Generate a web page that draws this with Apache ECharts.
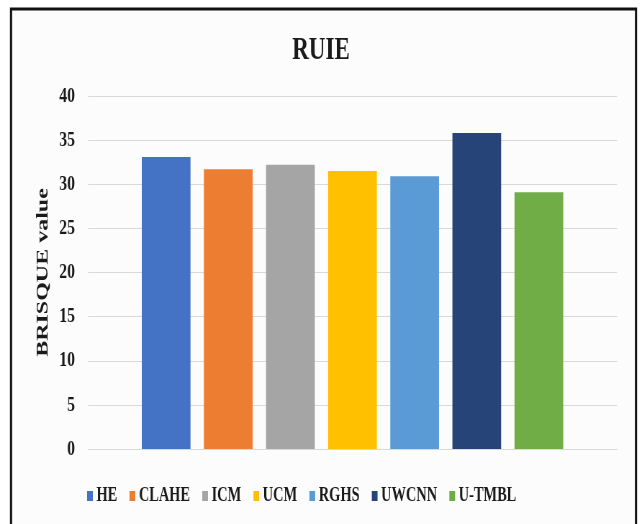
<!DOCTYPE html>
<html>
<head>
<meta charset="utf-8">
<style>
  html, body { margin: 0; padding: 0; background: #ffffff; overflow: hidden; }
  /* The chart is laid out on a wider canvas and squeezed horizontally,
     giving the narrow, condensed serif lettering of the figure. */
  #chart { width: 892px; height: 524px; transform: scaleX(0.7197); transform-origin: 0 0; }
</style>
<script src="https://cdn.jsdelivr.net/npm/echarts@6/dist/echarts.min.js"></script>
</head>
<body>
<div id="chart"></div>
<script>
// BRISQUE scores of each enhancement method on the RUIE set
const methods = ['HE', 'CLAHE', 'ICM', 'UCM', 'RGHS', 'UWCNN', 'U-TMBL'];
const brisque = [33.1, 31.7, 32.2, 31.5, 30.9, 35.8, 29.1];
const methodColors = ['#4472C4', '#ED7D31', '#A5A5A5', '#FFC000', '#5B9BD5', '#264478', '#70AD47'];
const yTicks = { min: 0, max: 40, interval: 5 };

const serif = '"Liberation Serif", "Times New Roman", serif';
const ink = '#1a1a1a';

const chart = echarts.init(document.getElementById('chart'), null, { renderer: 'canvas' });

const series = methods.map((name, i) => ({
  name: name,
  type: 'bar',
  data: [brisque[i]],
  barWidth: 67.7,
  barGap: '27.5%',
  itemStyle: { color: methodColors[i] }
}));

chart.setOption({
  backgroundColor: '#ffffff',
  animation: false,
  graphic: [{
    type: 'rect',
    shape: { x: 15.3, y: 9, width: 868.4, height: 530 },
    style: { fill: '#fcfcfc', stroke: '#111111', lineWidth: 3 },
    z: -10,
    silent: true
  }],
  title: {
    text: 'RUIE',
    left: 'center',
    top: 30,
    textStyle: { fontFamily: serif, fontWeight: 'bold', fontSize: 32, color: ink }
  },
  legend: {
    data: methods,
    bottom: 13,
    left: 116,
    itemWidth: 8,
    itemHeight: 10,
    itemGap: 17,
    icon: 'rect',
    textStyle: { fontFamily: serif, fontWeight: 'bold', fontSize: 20, color: ink }
  },
  grid: { left: 122.3, right: 34.7, top: 96, bottom: 75 },
  xAxis: {
    type: 'category',
    data: [''],
    axisTick: { show: false },
    axisLabel: { show: false },
    axisLine: { lineStyle: { color: '#d9d9d9', width: 1 } }
  },
  yAxis: {
    type: 'value',
    min: yTicks.min,
    max: yTicks.max,
    interval: yTicks.interval,
    name: 'BRISQUE value',
    nameLocation: 'middle',
    nameGap: 45,
    nameTextStyle: { fontFamily: serif, fontWeight: 'bold', fontSize: 24, color: ink },
    axisLine: { show: false },
    axisTick: { show: false },
    axisLabel: { fontFamily: serif, fontWeight: 'bold', fontSize: 22, color: ink, margin: 18 },
    splitLine: { lineStyle: { color: '#d9d9d9', width: 1 } }
  },
  series: series
});
</script>
</body>
</html>
